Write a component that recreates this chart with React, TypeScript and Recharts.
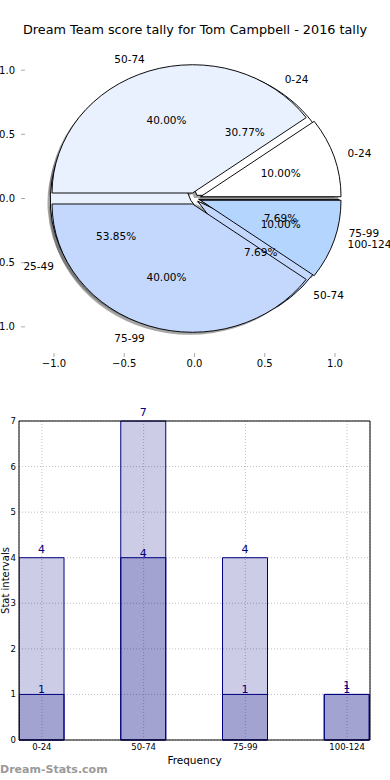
import React from 'react';
import { PieChart, Pie, Cell, ScatterChart, Scatter, XAxis, YAxis, BarChart, Bar, CartesianGrid, LabelList } from 'recharts';

const FONT = '"DejaVu Sans", sans-serif';

// upper pie (drawn on top)
const pieACats = ['0-24', '50-74', '75-99', '100-124'];
const pieAValues = [1, 4, 4, 1];
const pieAColors = ['#ffffff', '#e9f0fe', '#c4d8fe', '#b4d5fe'];

// lower pie (mostly hidden)
const pieBCats = ['0-24', '25-49', '50-74', '75-99'];
const pieBValues = [4, 7, 1, 1];
const pieBColors = ['#ffffff', '#e9f0fe', '#c4d8fe', '#b4d5fe'];

const barCats = ['0-24', '50-74', '75-99', '100-124'];
const barLight = [4, 7, 4, 1];
const barDark = [1, 4, 1, 1];

const pieTicks = [-1, -0.5, 0, 0.5, 1];
const barYTicks = [0, 1, 2, 3, 4, 5, 6, 7];

const pieAData = pieACats.map((name, i) => ({ name, value: pieAValues[i] }));
const pieBData = pieBCats.map((name, i) => ({ name, value: pieBValues[i] }));
const barData = barCats.map((name, i) => ({ x: i, name, light: barLight[i], dark: barDark[i] }));

// pie frame geometry (matplotlib axes -1.235..1.235, not equal aspect)
const LIM = 1.235;
const CX = 194.5;
const CY = 198.5;
const R = 140.5;
const KY = 0.913;
const EXPLODE_A = 0.045;
const EXPLODE_B = 0.03;
const RAD = Math.PI / 180;

const shifts = (values: number[], e: number) => {
  const total = values.reduce((a, b) => a + b, 0);
  let acc = 0;
  return values.map((v) => {
    const mid = ((acc + v / 2) / total) * 360 * RAD;
    acc += v;
    return [e * R * Math.cos(mid), -e * R * Math.sin(mid)];
  });
};

const sectorTransform = (d: number[], sx = 0, sy = 0) =>
  `translate(${CX} ${CY}) scale(1 ${KY}) translate(${-CX} ${-CY}) translate(${d[0] + sx} ${d[1] + sy})`;

const fmtPie = (v: number) => v.toFixed(1).replace('-', '\u2212');

const makeLabel = (e: number) => (p: any) => {
  const a = p.midAngle * RAD;
  const dx = e * p.outerRadius * Math.cos(a);
  const dy = -e * p.outerRadius * Math.sin(a);
  const ro = p.outerRadius * 1.1;
  const rp = p.outerRadius * 0.6;
  const ox = p.cx + dx + ro * Math.cos(a);
  const oy = p.cy + (dy - ro * Math.sin(a)) * KY;
  const px = p.cx + dx + rp * Math.cos(a);
  const py = p.cy + (dy - rp * Math.sin(a)) * KY;
  return (
    <g key={`lbl-${p.name}-${p.index}`}>
      <text x={ox} y={oy} textAnchor={ox > p.cx ? 'start' : 'end'} dominantBaseline="central" fontSize={10.5} fontFamily={FONT} fill="#000">
        {p.name}
      </text>
      <text x={px} y={py} textAnchor="middle" dominantBaseline="central" fontSize={10.5} fontFamily={FONT} fill="#000">
        {`${(p.percent * 100).toFixed(2)}%`}
      </text>
    </g>
  );
};

const shiftsA = shifts(pieAValues, EXPLODE_A);
const shiftsB = shifts(pieBValues, EXPLODE_B);

const PieFrame = () => (
  <ScatterChart width={390} height={400} margin={{ top: 39, right: 21, bottom: 23, left: 20 }}>
    <XAxis xAxisId="b" type="number" dataKey="x" domain={[-LIM, LIM]} ticks={pieTicks} tickFormatter={fmtPie} allowDataOverflow height={20} axisLine={false} tickSize={-4} tickMargin={7} tickLine={{ stroke: '#aaa' }} tick={{ fontSize: 10, fill: '#000', fontFamily: FONT }} />
    <XAxis xAxisId="t" orientation="top" type="number" dataKey="x" domain={[-LIM, LIM]} ticks={pieTicks} allowDataOverflow height={1} axisLine={false} tickSize={-4} tick={false} tickLine={{ stroke: '#aaa' }} />
    <YAxis yAxisId="l" type="number" dataKey="y" domain={[-LIM, LIM]} ticks={pieTicks} tickFormatter={fmtPie} allowDataOverflow width={1} axisLine={false} tickSize={-4} tickMargin={10} tickLine={{ stroke: '#aaa' }} tick={{ fontSize: 10, fill: '#000', fontFamily: FONT }} />
    <YAxis yAxisId="r" orientation="right" type="number" dataKey="y" domain={[-LIM, LIM]} ticks={pieTicks} allowDataOverflow width={1} axisLine={false} tickSize={-4} tick={false} tickLine={{ stroke: '#aaa' }} />
    <Scatter xAxisId="b" yAxisId="l" data={[]} isAnimationActive={false} />
  </ScatterChart>
);

const Pies = () => (
  <PieChart width={390} height={400} margin={{ top: 0, right: 0, bottom: 0, left: 0 }}>
    {/* shadows first, then wedges */}
    <Pie data={pieBData} dataKey="value" nameKey="name" cx={CX} cy={CY} outerRadius={R} startAngle={0} endAngle={360} stroke="none" isAnimationActive={false} label={false} labelLine={false}>
      {pieBData.map((d, i) => (
        <Cell key={d.name} fill="#4d4d4d" fillOpacity={0.5} transform={sectorTransform(shiftsB[i], -2.8, 2.8)} />
      ))}
    </Pie>
    <Pie data={pieAData} dataKey="value" nameKey="name" cx={CX} cy={CY} outerRadius={R} startAngle={0} endAngle={360} stroke="none" isAnimationActive={false} label={false} labelLine={false}>
      {pieAData.map((d, i) => (
        <Cell key={d.name} fill="#4d4d4d" fillOpacity={0.5} transform={sectorTransform(shiftsA[i], -2.8, 2.8)} />
      ))}
    </Pie>
    <Pie data={pieBData} dataKey="value" nameKey="name" cx={CX} cy={CY} outerRadius={R} startAngle={0} endAngle={360} stroke="#000" strokeWidth={1} isAnimationActive={false} label={false} labelLine={false}>
      {pieBData.map((d, i) => (
        <Cell key={d.name} fill={pieBColors[i]} transform={sectorTransform(shiftsB[i])} />
      ))}
    </Pie>
    <Pie data={pieAData} dataKey="value" nameKey="name" cx={CX} cy={CY} outerRadius={R} startAngle={0} endAngle={360} stroke="#000" strokeWidth={1} isAnimationActive={false} label={false} labelLine={false}>
      {pieAData.map((d, i) => (
        <Cell key={d.name} fill={pieAColors[i]} transform={sectorTransform(shiftsA[i])} />
      ))}
    </Pie>
    {/* label-only layers so text sits above every wedge */}
    <Pie data={pieBData} dataKey="value" nameKey="name" cx={CX} cy={CY} outerRadius={R} startAngle={0} endAngle={360} fill="none" stroke="none" isAnimationActive={false} label={makeLabel(EXPLODE_B)} labelLine={false} />
    <Pie data={pieAData} dataKey="value" nameKey="name" cx={CX} cy={CY} outerRadius={R} startAngle={0} endAngle={360} fill="none" stroke="none" isAnimationActive={false} label={makeLabel(EXPLODE_A)} labelLine={false} />
  </PieChart>
);

const YLabel = (props: any) => {
  const vb = props.viewBox;
  const y = vb.y + vb.height / 2;
  return (
    <text x={5} y={y} transform={`rotate(-90 5 ${y})`} textAnchor="middle" dominantBaseline="central" fontSize={10} fontFamily={FONT} fill="#000">
      Stat intervals
    </text>
  );
};

const Bars = () => (
  <BarChart width={390} height={380} data={barData} margin={{ top: 20, right: 19, bottom: 10, left: 0 }} barGap={0}>
    <XAxis xAxisId="a" type="number" dataKey="x" domain={[-0.225, 3.225]} ticks={[0, 1, 2, 3]} tickFormatter={(i: number) => barCats[i]} allowDataOverflow height={30} axisLine={{ stroke: '#000' }} tickLine={false} tickSize={0} tickMargin={4} tick={{ fontSize: 8.5, fill: '#000', fontFamily: FONT }} label={{ value: 'Frequency', position: 'insideBottom', offset: 6, fontSize: 10.5, fill: '#000', fontFamily: FONT }} />
    <XAxis xAxisId="b" type="number" dataKey="x" domain={[-0.225, 3.225]} allowDataOverflow hide />
    <XAxis xAxisId="t" orientation="top" type="number" dataKey="x" domain={[-0.225, 3.225]} allowDataOverflow height={1} tick={false} tickLine={false} axisLine={{ stroke: '#000' }} />
    <YAxis yAxisId="l" domain={[0, 7]} ticks={barYTicks} width={19} axisLine={{ stroke: '#000' }} tickLine={false} tickSize={0} tickMargin={3} tick={{ fontSize: 8.5, fill: '#000', fontFamily: FONT }} label={YLabel} />
    <YAxis yAxisId="r" orientation="right" domain={[0, 7]} ticks={barYTicks} width={1} tick={false} tickLine={false} axisLine={{ stroke: '#000' }} />
    <Bar xAxisId="a" yAxisId="l" dataKey="light" barSize={45} fill="#000080" fillOpacity={0.2} stroke="#000080" strokeWidth={1} isAnimationActive={false}>
      <LabelList dataKey="light" position="top" offset={5} fontSize={11} fill="#000080" fontFamily={FONT} />
    </Bar>
    <Bar xAxisId="b" yAxisId="l" dataKey="dark" barSize={45} fill="#000080" fillOpacity={0.2} stroke="#000080" strokeWidth={1} isAnimationActive={false}>
      <LabelList dataKey="dark" position="top" offset={1} fontSize={11} fill="#000080" fontFamily={FONT} />
    </Bar>
    <CartesianGrid xAxisId="a" yAxisId="l" strokeDasharray="1 2" stroke="#000" strokeOpacity={0.25} />
  </BarChart>
);

export default function App() {
  return (
    <div style={{ position: 'absolute', left: 0, top: 0, width: 390, height: 780, overflow: 'hidden', background: '#fff', fontFamily: FONT }}>
      <div style={{ position: 'absolute', left: 0, top: 22, width: 390, textAlign: 'center', fontSize: 12.8, lineHeight: '16px', color: '#000' }}>
        Dream Team score tally for Tom Campbell - 2016 tally
      </div>
      <div style={{ position: 'absolute', left: 0, top: 0 }}>
        <PieFrame />
      </div>
      <div style={{ position: 'absolute', left: 0, top: 0 }}>
        <Pies />
      </div>
      <div style={{ position: 'absolute', left: 0, top: 400 }}>
        <Bars />
      </div>
      <div style={{ position: 'absolute', left: 0, top: 763, fontSize: 11, fontWeight: 'bold', color: '#9a9a9a', lineHeight: '14px' }}>
        Dream-Stats.com
      </div>
    </div>
  );
}
